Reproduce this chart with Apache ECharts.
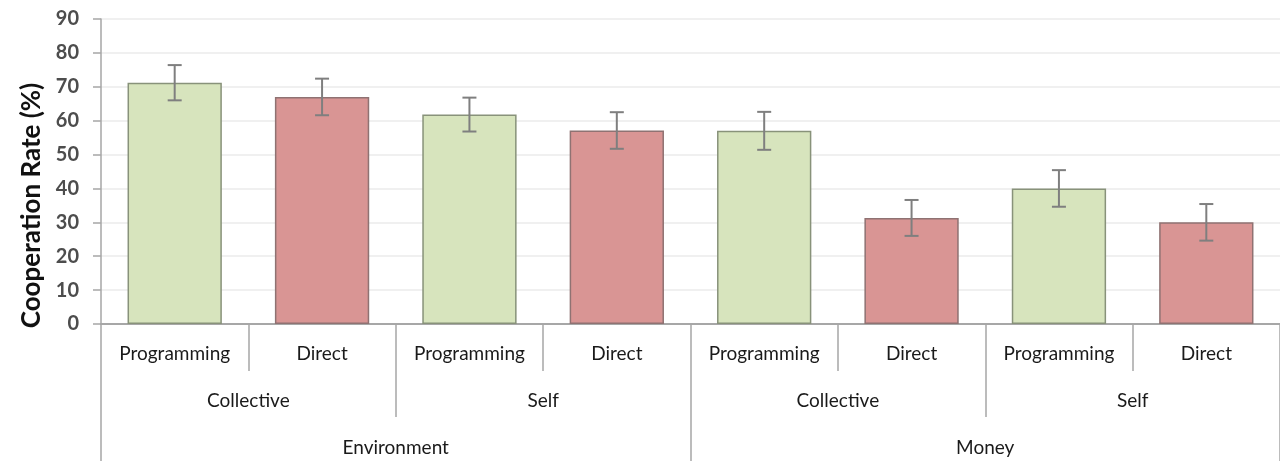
<!DOCTYPE html>
<html>
<head>
<meta charset="utf-8">
<script src="https://cdn.jsdelivr.net/npm/echarts@6/dist/echarts.min.js"></script>
<style>
  html, body { margin: 0; padding: 0; background: #fff; }
  #chart { width: 1280px; height: 461px; }
</style>
</head>
<body>
<div id="chart"></div>
<script>
// three levels of categories (bottom row is the bar level)
var conditions = ['Programming', 'Direct', 'Programming', 'Direct', 'Programming', 'Direct', 'Programming', 'Direct'];
var targets = ['Collective', 'Self', 'Collective', 'Self'];
var domains = ['Environment', 'Money'];

// cooperation rate (%) and error bar half-width
var rates = [71.2, 67.0, 61.8, 57.1, 57.0, 31.3, 40.0, 30.0];
var errors = [5.2, 5.4, 5.0, 5.4, 5.6, 5.3, 5.4, 5.4];

var fillColors = { Programming: '#d7e4bd', Direct: '#d99594' };
var borderColors = { Programming: '#88927a', Direct: '#8f7272' };

var font = 'Lato, "Liberation Sans", sans-serif';
var lineGrey = '#a6a6a6';

var chart = echarts.init(document.getElementById('chart'));

var barData = rates.map(function (v, i) {
    return {
        value: v,
        itemStyle: {
            color: fillColors[conditions[i]],
            borderColor: borderColors[conditions[i]],
            borderWidth: 1.5
        }
    };
});

var errData = rates.map(function (v, i) {
    return [i, v - errors[i], v + errors[i]];
});

function levelAxis(labels, tickLen, margin) {
    return {
        type: 'category',
        position: 'bottom',
        data: labels,
        boundaryGap: true,
        axisLine: { show: true, lineStyle: { color: lineGrey, width: 1.5 } },
        axisTick: { show: true, length: tickLen, lineStyle: { color: lineGrey, width: 1.5 } },
        axisLabel: { margin: margin, fontSize: 19, color: '#1a1a1a', fontFamily: font },
        splitLine: { show: false }
    };
}

var option = {
    animation: false,
    grid: { left: 101, right: 0, top: 19, bottom: 137 },
    xAxis: [
        levelAxis(conditions, 47, 20),
        levelAxis(targets, 93, 67),
        levelAxis(domains, 140, 114)
    ],
    yAxis: {
        type: 'value',
        min: 0,
        max: 90,
        interval: 10,
        name: 'Cooperation Rate (%)',
        nameLocation: 'middle',
        nameGap: 55,
        nameTextStyle: {
            fontSize: 26, fontWeight: 'bold', color: '#111', fontFamily: font,
            padding: [0, 68, 0, 0]
        },
        axisLine: { show: true, lineStyle: { color: lineGrey, width: 1.5 } },
        axisTick: { show: true, length: 8, lineStyle: { color: lineGrey, width: 1.5 } },
        axisLabel: { margin: 22, fontSize: 20, fontWeight: 'bold', color: '#4d4d4d', fontFamily: font },
        splitLine: { show: true, lineStyle: { color: '#ebebeb', width: 1.5 } }
    },
    series: [
        {
            type: 'bar',
            xAxisIndex: 0,
            barWidth: '64%',
            data: barData
        },
        {
            type: 'custom',
            xAxisIndex: 0,
            z: 5,
            data: errData,
            renderItem: function (params, api) {
                var lo = api.coord([api.value(0), api.value(1)]);
                var hi = api.coord([api.value(0), api.value(2)]);
                var cap = 7;
                var style = { stroke: '#7f7f7f', lineWidth: 2 };
                return {
                    type: 'group',
                    children: [
                        { type: 'line', shape: { x1: hi[0], y1: hi[1], x2: lo[0], y2: lo[1] }, style: style },
                        { type: 'line', shape: { x1: hi[0] - cap, y1: hi[1], x2: hi[0] + cap, y2: hi[1] }, style: style },
                        { type: 'line', shape: { x1: lo[0] - cap, y1: lo[1], x2: lo[0] + cap, y2: lo[1] }, style: style }
                    ]
                };
            }
        }
    ]
};

chart.setOption(option);
</script>
</body>
</html>
